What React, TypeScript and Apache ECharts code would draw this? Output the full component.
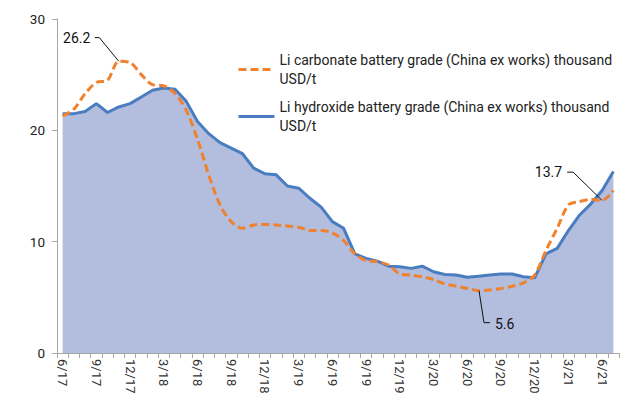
import React, { useEffect, useRef } from "react";
import * as echarts from "echarts";

const categories = [
  "6/17", "7/17", "8/17", "9/17", "10/17", "11/17", "12/17",
  "1/18", "2/18", "3/18", "4/18", "5/18", "6/18", "7/18", "8/18", "9/18", "10/18", "11/18", "12/18",
  "1/19", "2/19", "3/19", "4/19", "5/19", "6/19", "7/19", "8/19", "9/19", "10/19", "11/19", "12/19",
  "1/20", "2/20", "3/20", "4/20", "5/20", "6/20", "7/20", "8/20", "9/20", "10/20", "11/20", "12/20",
  "1/21", "2/21", "3/21", "4/21", "5/21", "6/21", "7/21",
];

const hydroxide = [
  21.5, 21.5, 21.7, 22.4, 21.6, 22.1, 22.4, 23.0, 23.6, 23.8, 23.7, 22.6,
  20.8, 19.7, 18.9, 18.4, 17.9, 16.6, 16.1, 16.0, 15.0, 14.8, 13.9, 13.1,
  11.8, 11.2, 8.9, 8.5, 8.25, 7.8, 7.75, 7.6, 7.8, 7.3, 7.05, 7.0,
  6.8, 6.9, 7.0, 7.1, 7.1, 6.85, 6.75, 8.9, 9.4, 11.0, 12.4, 13.4,
  14.6, 16.3,
];

const carbonate = [
  21.3, 21.9, 23.3, 24.3, 24.5, 26.2, 26.1, 25.0, 24.1, 24.0, 23.3, 21.8,
  19.2, 16.0, 13.3, 11.8, 11.2, 11.5, 11.55, 11.5, 11.4, 11.3, 11.0, 11.0,
  10.8, 10.1, 8.9, 8.3, 8.2, 7.9, 7.1, 7.0, 6.85, 6.6, 6.2, 6.0,
  5.8, 5.6, 5.65, 5.8, 6.0, 6.3, 7.0, 9.2, 11.2, 13.3, 13.6, 13.8,
  13.7, 14.6,
];

const yTicks = { min: 0, max: 30, interval: 10 };

const carbonateName = "Li carbonate battery grade (China ex works) thousand USD/t";
const hydroxideName = "Li hydroxide battery grade (China ex works) thousand USD/t";

// annotations: [series index (0 = carbonate, 1 = hydroxide), category index, label]
const annotations: [number, number, string][] = [
  [0, 5, "26.2"],
  [0, 37, "5.6"],
  [0, 48, "13.7"],
];

const FONT = "Roboto, 'Noto Sans', sans-serif";

export default function App() {
  const ref = useRef<HTMLDivElement>(null);
  useEffect(() => {
    if (!ref.current) return;
    const chart = echarts.init(ref.current, undefined, { renderer: "svg" });
    chart.setOption({
      animation: false,
      textStyle: { fontFamily: FONT },
      grid: { left: 57, right: 13, top: 19, bottom: 48, containLabel: false },
      legend: {
        orient: "vertical",
        left: 232,
        top: 36,
        itemWidth: 36,
        itemHeight: 14,
        itemGap: -10,
        selectedMode: false,
        itemStyle: { opacity: 0 },
        lineStyle: { width: 3 },
        formatter: (name: string) => name.replace(" USD/t", "\nUSD/t"),
        textStyle: {
          fontFamily: FONT,
          fontSize: 14,
          color: "#222",
          lineHeight: 19,
          padding: [19, 0, 0, 0],
        },
        data: [carbonateName, hydroxideName],
      },
      xAxis: {
        type: "category",
        data: categories,
        boundaryGap: true,
        axisLine: { lineStyle: { color: "#a6a6a6", width: 1 } },
        axisTick: { show: true, interval: 0, length: 5, lineStyle: { color: "#a6a6a6" } },
        axisLabel: {
          interval: 2,
          rotate: -90,
          margin: 6,
          fontSize: 13,
          color: "#333",
          fontFamily: FONT,
        },
        splitLine: { show: false },
      },
      yAxis: {
        type: "value",
        min: yTicks.min,
        max: yTicks.max,
        interval: yTicks.interval,
        axisLine: { show: true, lineStyle: { color: "#a6a6a6", width: 1 } },
        axisTick: { show: true, length: 5, lineStyle: { color: "#a6a6a6" } },
        axisLabel: { margin: 12, fontSize: 13.5, color: "#222", fontFamily: FONT },
        splitLine: { show: false },
      },
      series: [
        {
          name: hydroxideName,
          type: "line",
          data: hydroxide,
          symbol: "none",
          lineStyle: { color: "#4a7dbf", width: 3 },
          itemStyle: { color: "#4a7dbf" },
          areaStyle: { color: "#b3bedf", opacity: 1 },
          z: 2,
        },
        {
          name: carbonateName,
          type: "line",
          data: carbonate,
          symbol: "none",
          smooth: 0.3,
          lineStyle: { color: "#f0812e", width: 3, type: [8, 4] },
          itemStyle: { color: "#f0812e" },
          z: 3,
        },
      ],
    });

    const series = [carbonate, hydroxide];
    const graphics: any[] = [];
    const offsets: Record<string, { line: number[][]; tx: number; ty: number; align: string }> = {
      "26.2": { line: [[-24, -23.7], [-19.5, -23.7], [0, 0]], tx: -28.5, ty: -23.7, align: "right" },
      "5.6": { line: [[0.5, 0], [5.5, 32], [11.5, 32]], tx: 16.5, ty: 33.5, align: "left" },
      "13.7": { line: [[-35, -28.3], [-29, -28.3], [0, 0]], tx: -40, ty: -28.3, align: "right" },
    };
    annotations.forEach(([s, idx, label]) => {
      const p = chart.convertToPixel({ gridIndex: 0 }, [idx, series[s][idx]]) as number[];
      const o = offsets[label];
      graphics.push({
        type: "polyline",
        shape: { points: o.line.map(([dx, dy]) => [p[0] + dx, p[1] + dy]) },
        style: { stroke: "#111", lineWidth: 1, fill: null },
        z: 10,
      });
      graphics.push({
        type: "text",
        x: p[0] + o.tx,
        y: p[1] + o.ty,
        style: {
          text: label,
          fontSize: 14,
          fontFamily: FONT,
          fill: "#111",
          align: o.align,
          verticalAlign: "middle",
        },
        z: 10,
      });
    });
    chart.setOption({ graphic: graphics });

    return () => chart.dispose();
  }, []);
  return <div ref={ref} style={{ width: 632, height: 401, margin: -8 }} />;
}
